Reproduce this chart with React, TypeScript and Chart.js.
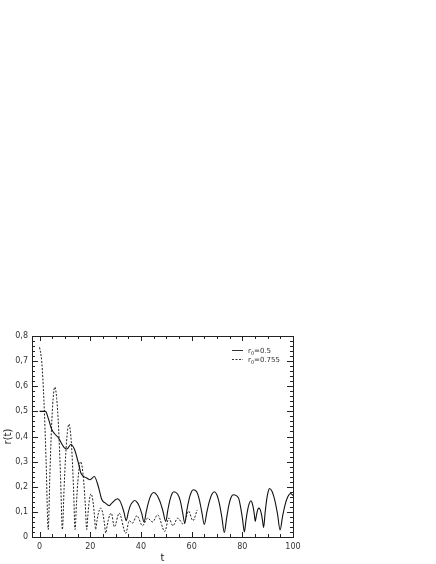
import React, { useEffect, useRef } from "react";
import { Chart, registerables } from "chart.js";

Chart.register(...registerables);

const T_SOLID = [0, 2.3, 3.5, 4.7, 6, 7.4, 8.5, 9.8, 10.8, 12.3, 13.7, 15.3, 16.3, 17.5, 18.6, 19.9, 21.6, 23.2, 24.5, 26, 27.5, 28.5,
  30.7, 31.6, 32.45, 33.3, 34.2, 35.0, 35.85, 36.7, 37.5, 38.4, 39.35, 40.3, 41.2,
  42.15, 43.1, 44.05, 45, 46.2, 47.4, 48.6, 49.8, 50.6, 51.4, 52.2, 53, 54.5, 55.5, 56.4, 57.3,
  58.1, 58.95, 59.8, 60.6, 62, 63, 64, 65, 66, 67, 68, 69, 70, 70.95, 71.9, 72.9,
  73.8, 74.65, 75.5, 76.4, 78.5, 79.3, 80.1, 80.8, 81.45, 82.1, 82.75, 83.4, 83.8, 84.25, 84.7, 85.1,
  85.5, 85.85, 86.2, 86.6, 87.05, 87.5, 87.95, 88.4, 89.0, 89.6, 90.2, 90.8, 91.8, 92.85, 93.9, 94.9,
  95.9, 96.95, 98, 99, 100];
const R_SOLID = [0.5, 0.5, 0.47, 0.43, 0.41, 0.395, 0.375, 0.355, 0.35, 0.368, 0.35, 0.295, 0.255, 0.24, 0.235, 0.228, 0.241, 0.2, 0.15, 0.135, 0.125, 0.135,
  0.152, 0.145, 0.126, 0.098, 0.065, 0.098, 0.126, 0.139, 0.145, 0.139, 0.122, 0.094, 0.06,
  0.104, 0.143, 0.168, 0.177, 0.168, 0.144, 0.106, 0.062, 0.107, 0.146, 0.171, 0.18, 0.17, 0.145, 0.1, 0.055,
  0.106, 0.149, 0.177, 0.188, 0.18, 0.15, 0.1, 0.05, 0.099, 0.142, 0.17, 0.18, 0.167, 0.133, 0.08, 0.018,
  0.075, 0.125, 0.156, 0.168, 0.155, 0.12, 0.07, 0.02, 0.067, 0.108, 0.134, 0.144, 0.138, 0.12, 0.093, 0.062,
  0.082, 0.1, 0.111, 0.115, 0.109, 0.093, 0.067, 0.038, 0.097, 0.148, 0.181, 0.193, 0.18, 0.145, 0.091, 0.028,
  0.083, 0.131, 0.161, 0.173, 0.165];

const T_DASHED = [0, 0.85, 1.7, 2.55, 3.4, 4.05, 4.7, 5.35, 6.0, 6.75, 7.5, 8.25, 9.0, 9.65, 10.3, 10.95, 11.6, 12.2, 12.8, 13.4, 14.0,
  14.55, 15.1, 15.65, 16.2, 16.8, 17.4, 18.0, 18.6, 19.03, 19.45, 19.88, 20.3, 20.75, 21.2, 21.65, 22.1,
  22.6, 23.1, 23.6, 24.1, 24.6, 25.1, 25.6, 26.1, 26.65, 27.2, 27.75, 28.3, 29.5, 31.4, 34.0, 35.4, 36.6, 38.4,
  40.6, 42.6, 44.6, 46.6, 49.4, 51.0, 52.6, 54.5, 56.8, 58.8, 60.5, 62.2];
const R_DASHED = [0.755, 0.697, 0.545, 0.306, 0.03, 0.245, 0.433, 0.552, 0.597, 0.552, 0.433, 0.245, 0.03, 0.19, 0.328, 0.416, 0.45, 0.416, 0.328, 0.19, 0.03,
  0.133, 0.222, 0.278, 0.3, 0.278, 0.222, 0.133, 0.03, 0.084, 0.131, 0.161, 0.172, 0.161, 0.131, 0.084, 0.03,
  0.062, 0.09, 0.108, 0.115, 0.107, 0.086, 0.053, 0.015, 0.045, 0.072, 0.089, 0.095, 0.04, 0.095, 0.015, 0.065, 0.055, 0.085,
  0.045, 0.075, 0.06, 0.088, 0.022, 0.075, 0.045, 0.075, 0.05, 0.103, 0.065, 0.108];

const X_TICKS = [0, 20, 40, 60, 80, 100];
const X_MINOR_STEP = 5;
const Y_MINOR_STEP = 0.02;
const LEGEND_LABELS = ["0.5", "0.755"];

const FONT = "'DejaVu Sans', sans-serif";

const framePlugin = {
  id: "frameTicks",
  afterDraw(chart: any) {
    const { ctx, chartArea, scales } = chart;
    const { left, right, top, bottom } = chartArea;
    const x = scales.x;
    const y = scales.y;
    ctx.save();
    ctx.strokeStyle = "#222";
    ctx.lineWidth = 1;
    ctx.strokeRect(Math.round(left) + 0.5, Math.round(top) + 0.5, Math.round(right - left), Math.round(bottom - top));
    ctx.beginPath();
    for (let i = 0; i * X_MINOR_STEP <= 100 + 1e-9; i++) {
      const v = i * X_MINOR_STEP;
      const px = Math.round(x.getPixelForValue(v)) + 0.5;
      const len = i % 4 === 0 ? 5 : 3;
      ctx.moveTo(px, bottom);
      ctx.lineTo(px, bottom - len);
      ctx.moveTo(px, top);
      ctx.lineTo(px, top + len);
    }
    for (let i = 0; i * Y_MINOR_STEP <= 0.8 + 1e-9; i++) {
      const v = i * Y_MINOR_STEP;
      const py = Math.round(y.getPixelForValue(v)) + 0.5;
      const len = i % 5 === 0 ? 6 : 3;
      ctx.moveTo(left, py);
      ctx.lineTo(left + len, py);
      ctx.moveTo(right, py);
      ctx.lineTo(right - len, py);
    }
    ctx.stroke();

    // legend
    const lx = right - 61;
    const rows = [top + 14, top + 23];
    rows.forEach((ry, i) => {
      ctx.beginPath();
      ctx.strokeStyle = "#333";
      ctx.lineWidth = 1;
      ctx.setLineDash(i === 0 ? [] : [2, 1.5]);
      ctx.moveTo(lx, ry + 0.5);
      ctx.lineTo(lx + 11, ry + 0.5);
      ctx.stroke();
      ctx.setLineDash([]);
      ctx.fillStyle = "#333";
      ctx.textBaseline = "alphabetic";
      ctx.font = `7px ${FONT}`;
      let tx = lx + 16;
      ctx.fillText("r", tx, ry + 3);
      tx += ctx.measureText("r").width;
      ctx.font = `5px ${FONT}`;
      ctx.fillText("0", tx, ry + 4.5);
      tx += ctx.measureText("0").width;
      ctx.font = `7px ${FONT}`;
      ctx.fillText("=" + LEGEND_LABELS[i], tx, ry + 3);
    });
    ctx.restore();
  },
};

export default function App() {
  const ref = useRef<HTMLCanvasElement>(null);
  useEffect(() => {
    if (!ref.current) return;
    const chart = new Chart(ref.current, {
      type: "line",
      data: {
        datasets: [
          {
            label: "r0=0.5",
            data: T_SOLID.map((t, i) => ({ x: t, y: R_SOLID[i] })),
            borderColor: "#111",
            borderWidth: 1.1,
            pointRadius: 0,
            cubicInterpolationMode: "monotone",
            fill: false,
          },
          {
            label: "r0=0.755",
            data: T_DASHED.map((t, i) => ({ x: t, y: R_DASHED[i] })),
            borderColor: "#222",
            borderWidth: 1,
            borderDash: [2, 1.5],
            pointRadius: 0,
            cubicInterpolationMode: "monotone",
            fill: false,
          },
        ],
      },
      options: {
        responsive: false,
        animation: false,
        layout: { padding: { left: 0, top: 336, right: 143, bottom: 0 } },
        plugins: { legend: { display: false }, tooltip: { enabled: false } },
        scales: {
          x: {
            type: "linear",
            min: -3,
            max: 100,
            grid: { display: false, drawTicks: false },
            border: { display: false },
            afterBuildTicks: (s: any) => {
              s.ticks = X_TICKS.map((v) => ({ value: v }));
            },
            afterFit: (s: any) => {
              s.height = 27;
            },
            ticks: { color: "#333", font: { family: FONT, size: 8 }, padding: 5, maxRotation: 0 },
            title: { display: true, text: "t", color: "#222", font: { family: FONT, size: 10 }, padding: { top: 0, bottom: 0 } },
          },
          y: {
            min: 0,
            max: 0.8,
            grid: { display: false, drawTicks: false },
            border: { display: false },
            afterFit: (s: any) => {
              s.width = 32;
            },
            ticks: {
              stepSize: 0.1,
              color: "#333",
              font: { family: FONT, size: 8 },
              padding: 4,
              callback: (v: any) => (Math.abs(v) < 1e-9 ? "0" : Number(v).toFixed(1).replace(".", ",")),
            },
            title: { display: true, text: "r(t)", color: "#222", font: { family: FONT, size: 10 }, padding: { top: 2, bottom: 0 } },
          },
        },
      },
      plugins: [framePlugin],
    });
    return () => chart.destroy();
  }, []);
  return (
    <canvas
      ref={ref}
      width={436}
      height={564}
      style={{ position: "absolute", left: 0, top: 0, width: 436, height: 564, display: "block" }}
    />
  );
}
